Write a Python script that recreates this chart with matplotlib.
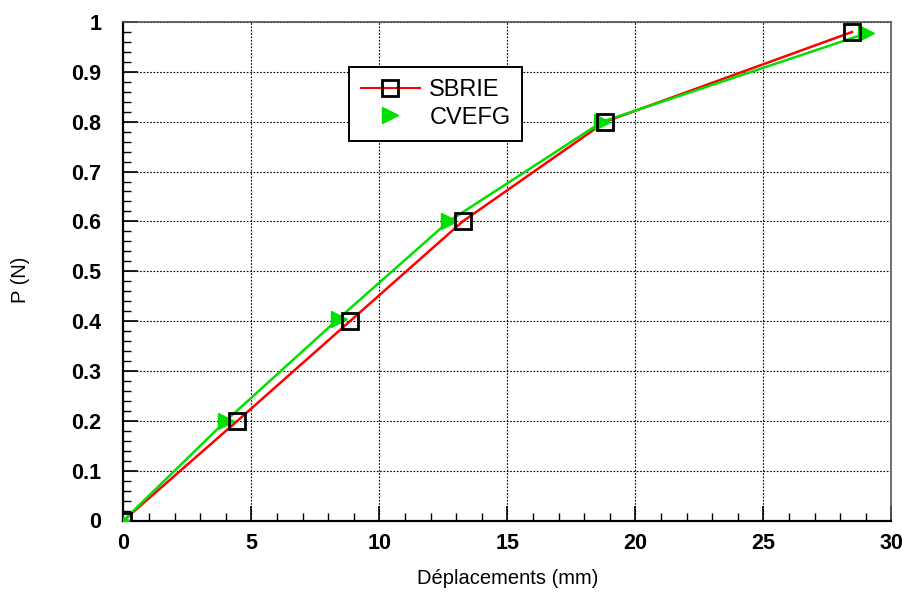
import matplotlib
matplotlib.use("Agg")
import matplotlib.pyplot as plt
from matplotlib.lines import Line2D
from matplotlib.ticker import MultipleLocator

# Load-displacement data
sbrie_x = [0.0, 4.45, 8.85, 13.25, 18.82, 28.46]
sbrie_y = [0.0, 0.20, 0.40, 0.60, 0.80, 0.98]

cvefg_x = [0.0, 4.0, 8.4, 12.7, 18.7, 29.0]
cvefg_y = [0.0, 0.20, 0.405, 0.60, 0.80, 0.977]

x_ticks = [0, 5, 10, 15, 20, 25, 30]
y_ticks = [0, 0.1, 0.2, 0.3, 0.4, 0.5, 0.6, 0.7, 0.8, 0.9, 1]
y_tick_labels = ["0", "0.1", "0.2", "0.3", "0.4", "0.5", "0.6", "0.7", "0.8", "0.9", "1"]

plt.rcParams['font.family'] = ['Liberation Sans', 'DejaVu Sans']

W, H = 903, 594
fig = plt.figure(figsize=(W / 100, H / 100), dpi=100)
ax = fig.add_axes([123.5 / W, 1 - 520.5 / H, (891.5 - 123.5) / W, (520.5 - 22) / H])

ax.plot(sbrie_x, sbrie_y, color="#ff0000", lw=1.8, zorder=3)
ax.plot(cvefg_x, cvefg_y, color="#00e000", lw=1.8, zorder=3)
ax.plot(cvefg_x, cvefg_y, ls="none", marker=">", ms=11, color="#00e000",
        mec="#00e000", zorder=4)
ax.plot(sbrie_x, sbrie_y, ls="none", marker="s", ms=12, mfc="none",
        mec="black", mew=2, zorder=5)

ax.set_xlim(0, 30)
ax.set_ylim(0, 1)
ax.set_xticks(x_ticks)
ax.set_xticklabels([str(v) for v in x_ticks], fontsize=15.5, fontweight="bold")
ax.set_yticks(y_ticks)
ax.set_yticklabels(y_tick_labels, fontsize=15.5, fontweight="bold")
ax.xaxis.set_minor_locator(MultipleLocator(1))
ax.yaxis.set_minor_locator(MultipleLocator(0.02))

ax.tick_params(which="major", direction="in", length=11, width=1.2,
               top=False, right=False)
ax.tick_params(axis="y", which="major", pad=16)
ax.tick_params(axis="x", which="major", pad=9)
ax.tick_params(which="minor", direction="in", length=6, width=1,
               top=False, right=False)

ax.grid(True, which="major", color="black", ls=(0, (1.5, 1.5)), lw=0.8)
ax.set_axisbelow(True)

for side in ("left", "bottom"):
    ax.spines[side].set_color("black")
    ax.spines[side].set_linewidth(1.6)
for side in ("top", "right"):
    ax.spines[side].set_color("#555555")
    ax.spines[side].set_linewidth(1.2)

# Axis titles
fig.text(507.5 / W, 1 - 578 / H, "Déplacements (mm)", fontsize=14.5,
         ha="center", va="center")
fig.text(21 / W, 1 - 280 / H, "P (N)", fontsize=14.5, rotation=90,
         ha="center", va="center")

handles = [
    Line2D([], [], color="#ff0000", lw=1.5, marker="s", ms=12, mfc="none",
           mec="black", mew=2),
    Line2D([], [], ls="none", marker=">", ms=11, color="#00e000"),
]
leg = ax.legend(handles, ["SBRIE", "CVEFG"], loc="upper left",
                bbox_to_anchor=((349 - 123.5) / 768, (520.5 - 67) / 498.5),
                borderaxespad=0, fontsize=17, fancybox=False, framealpha=1,
                edgecolor="black", handlelength=2.5, borderpad=0.5,
                labelspacing=0.25, handletextpad=0.4)
leg.get_frame().set_linewidth(1.4)

fig.savefig("out.png", dpi=100)
